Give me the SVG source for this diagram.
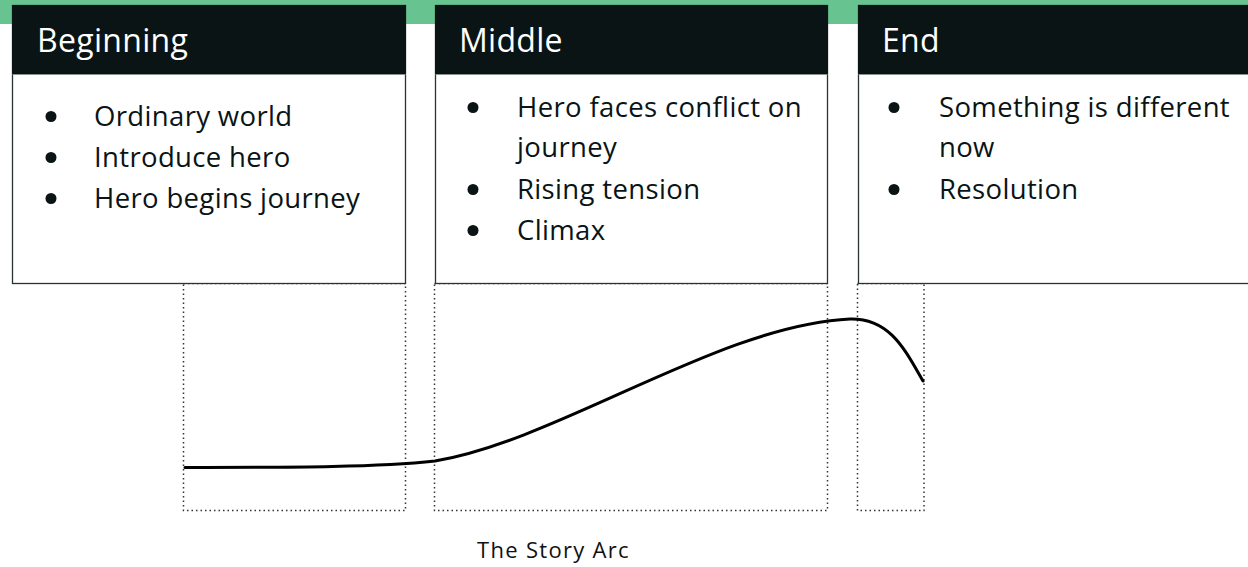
<svg xmlns="http://www.w3.org/2000/svg" width="1248" height="567" viewBox="0 0 1248 567">
<style>
.box{fill:#ffffff;stroke:#2b3233;stroke-width:1.3}
.hdr{fill:#0a1415}
.sep{stroke:#8a9090;stroke-width:1}
.ht{font-family:"Open Sans","Liberation Sans",sans-serif;font-size:32px;letter-spacing:0.3px;fill:#ffffff}
.bt{font-family:"Open Sans","Liberation Sans",sans-serif;font-size:27.5px;letter-spacing:0.35px;fill:#0a1415}
.dot{fill:#0a1415}
.zone{fill:none;stroke:#333333;stroke-width:1.5;stroke-dasharray:1.5 3}
.cap{font-family:"Open Sans","Liberation Sans",sans-serif;font-size:22px;letter-spacing:1.3px;fill:#111111}
</style>
<rect x="0" y="0" width="1248" height="567" fill="#ffffff"/>
<rect x="0" y="0" width="1248" height="24" fill="#67c491"/>

<g id="zones">
<rect class="zone" x="183.5" y="283.5" width="222" height="227"/>
<rect class="zone" x="434.5" y="283.5" width="393" height="227"/>
<rect class="zone" x="857.5" y="283.5" width="66.5" height="227"/>
</g>

<g id="beginning">
<rect class="box" x="12.5" y="5.5" width="393" height="278"/>
<rect class="hdr" x="12" y="5" width="394" height="69"/>
<line class="sep" x1="12.5" y1="74.5" x2="405.5" y2="74.5"/>
<text class="ht" x="37" y="52">Beginning</text>
<circle class="dot" cx="51" cy="116.5" r="5.5"/>
<text class="bt" x="94" y="125.5">Ordinary world</text>
<circle class="dot" cx="51" cy="157.5" r="5.5"/>
<text class="bt" x="94" y="166.5">Introduce hero</text>
<circle class="dot" cx="51" cy="198.5" r="5.5"/>
<text class="bt" x="94" y="207.5">Hero begins journey</text>
</g>

<g id="middle">
<rect class="box" x="435.5" y="5.5" width="392" height="278"/>
<rect class="hdr" x="435" y="5" width="393" height="69"/>
<line class="sep" x1="435.5" y1="74.5" x2="827.5" y2="74.5"/>
<text class="ht" x="459" y="52">Middle</text>
<circle class="dot" cx="473" cy="107.5" r="5.5"/>
<text class="bt" x="517" y="116.5">Hero faces conflict on</text>
<text class="bt" x="517" y="157">journey</text>
<circle class="dot" cx="473" cy="189.5" r="5.5"/>
<text class="bt" x="517" y="198.5">Rising tension</text>
<circle class="dot" cx="473" cy="230.5" r="5.5"/>
<text class="bt" x="517" y="239.5">Climax</text>
</g>

<g id="end">
<rect class="box" x="858.5" y="5.5" width="400" height="278"/>
<rect class="hdr" x="858" y="5" width="401" height="69"/>
<line class="sep" x1="858.5" y1="74.5" x2="1258" y2="74.5"/>
<text class="ht" x="882" y="52">End</text>
<circle class="dot" cx="894" cy="107.5" r="5.5"/>
<text class="bt" x="939" y="116.5">Something is different</text>
<text class="bt" x="939" y="157">now</text>
<circle class="dot" cx="894" cy="189.5" r="5.5"/>
<text class="bt" x="939" y="198.5">Resolution</text>
</g>

<g id="connectors">
<path d="M185,467.5 C300,467.5 380,467 435,461 C560,440 720,325 850,319 C890,318 905,350 923,381" fill="none" stroke="#000000" stroke-width="3" stroke-linecap="round"/>
</g>

<g id="caption">
<text class="cap" x="477" y="558">The Story Arc</text>
</g>
</svg>
